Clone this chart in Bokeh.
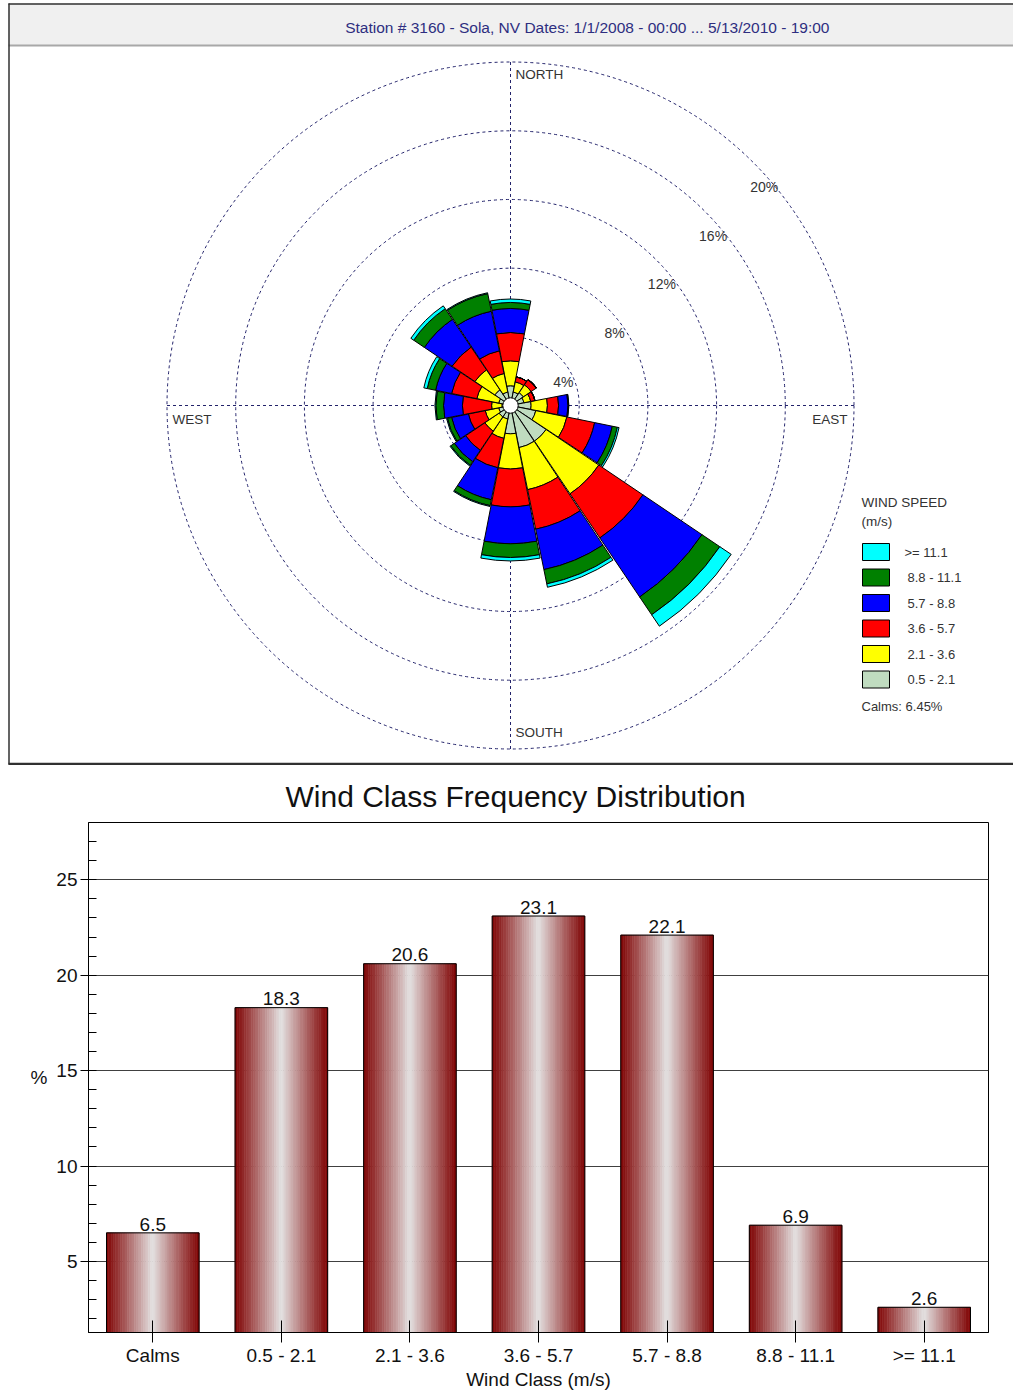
import numpy as np
from bokeh.plotting import figure
from bokeh.models import Range1d, FixedTicker, ColumnDataSource
from bokeh.embed import file_html
from bokeh.resources import INLINE
from bokeh.core.properties import value

# ---------------- data: wind rose (percent of time, per direction) ----------------
directions = ["N", "NNE", "NE", "ENE", "E", "ESE", "SE", "SSE",
              "S", "SSW", "SW", "WSW", "W", "WNW", "NW", "NNW"]
dir_angles = [0.0, 22.5, 45.0, 67.5, 90.0, 112.5, 135.0, 157.5,
              180.0, 202.5, 225.0, 247.5, 270.0, 292.5, 315.0, 337.5]
speed_classes = ["0.5 - 2.1", "2.1 - 3.6", "3.6 - 5.7", "5.7 - 8.8", "8.8 - 11.1", ">= 11.1"]
class_colors = ["#C0DCC0", "#FFFF00", "#FF0000", "#0000FF", "#008000", "#00FFFF"]
freq_05_21 = [1.15, 0.80, 0.90, 0.80, 1.20, 1.50, 2.50, 2.50, 1.65, 0.80, 0.80, 0.70, 0.50, 0.70, 1.10, 0.80]
freq_21_36 = [1.45, 0.60, 0.55, 0.40, 0.95, 1.85, 3.70, 2.50, 2.05, 1.15, 1.00, 0.80, 0.60, 1.30, 1.40, 1.10]
freq_36_57 = [1.65, 0.30, 0.35, 0.25, 0.65, 1.65, 3.10, 2.35, 2.20, 1.75, 1.35, 1.00, 1.70, 1.50, 1.60, 1.35]
freq_57_88 = [1.40, 0.00, 0.03, 0.00, 0.55, 1.05, 4.15, 2.40, 2.15, 1.90, 0.80, 1.00, 1.10, 0.95, 1.95, 2.35]
freq_88_111 = [0.35, 0.00, 0.00, 0.00, 0.03, 0.30, 1.25, 0.85, 0.80, 0.35, 0.25, 0.25, 0.45, 0.50, 0.75, 1.05]
freq_111_up = [0.20, 0.00, 0.00, 0.00, 0.02, 0.10, 0.80, 0.20, 0.20, 0.05, 0.05, 0.05, 0.05, 0.20, 0.20, 0.05]
calms_pct = 6.45
ring_values = [4, 8, 12, 16, 20]
header_text = "Station # 3160 - Sola, NV  Dates: 1/1/2008 - 00:00 ... 5/13/2010 - 19:00"

# ---------------- data: wind class frequency distribution ----------------
class_labels = ["Calms", "0.5 - 2.1", "2.1 - 3.6", "3.6 - 5.7", "5.7 - 8.8", "8.8 - 11.1", ">= 11.1"]
class_freq = [6.5, 18.3, 20.6, 23.1, 22.1, 6.9, 2.6]
y_ticks = [5, 10, 15, 20, 25]

FONT = "Liberation Sans"

# ================= top panel: wind rose =================
W1, H1 = 1013, 765
CX, CY = 510.0, 405.0          # rose centre in canvas pixels
S = 343.5 / 20.0               # pixels per percent


def fx(px):
    return (px - CX) / S


def fy(py):
    return (CY - py) / S


p1 = figure(width=W1, height=H1, title=None,
            x_range=Range1d(fx(0), fx(W1)), y_range=Range1d(fy(H1), fy(0)),
            x_axis_type=None, y_axis_type=None,
            output_backend="svg", toolbar_location=None, min_border=0,
            background_fill_color="white", border_fill_color="white",
            outline_line_color=None)
p1.grid.visible = False

# panel frame and header band
p1.quad(left=[fx(8)], right=[fx(W1 + 5)], top=[fy(3)], bottom=[fy(45)],
        fill_color="#F0F0F0", line_color=None)
p1.segment(x0=[fx(8)], y0=[fy(45)], x1=[fx(W1 + 5)], y1=[fy(45)],
           line_color="#A8A8A8", line_width=2)
p1.segment(x0=[fx(8.5), fx(8), fx(8)], y0=[fy(3), fy(3.5), fy(763.5)],
           x1=[fx(8.5), fx(W1 + 5), fx(W1 + 5)], y1=[fy(764), fy(3.5), fy(763.5)],
           line_color="#303030", line_width=[1.5, 1.5, 2.5])
p1.text(x=[fx(589)], y=[fy(27)], text=[header_text], text_font=value(FONT),
        text_font_size="15.5px", text_color="#2E2E80", text_align="center",
        text_baseline="middle")

# rings and axis lines
rmax = max(ring_values)
p1.circle(x=[0] * len(ring_values), y=[0] * len(ring_values), radius=ring_values,
          fill_color=None, line_color="#23236B", line_width=1, line_dash="3 3")
p1.segment(x0=[-rmax, 0], y0=[0, -rmax], x1=[rmax, 0], y1=[0, rmax],
           line_color="#23236B", line_width=1, line_dash="3 3")

# petals
bands = np.array([freq_05_21, freq_21_36, freq_36_57, freq_57_88, freq_88_111, freq_111_up])
outer = np.cumsum(bands, axis=0)
inner = np.vstack([np.zeros(len(directions)), outer[:-1]])
theta = np.array(dir_angles)
half = 11.0
start = np.radians(90.0 - theta - half)
end = np.radians(90.0 - theta + half)
for b in range(len(speed_classes)):
    src = ColumnDataSource(dict(x=np.zeros(len(directions)), y=np.zeros(len(directions)),
                                ri=inner[b], ro=outer[b], sa=start, ea=end))
    p1.annular_wedge(x="x", y="y", inner_radius="ri", outer_radius="ro",
                     start_angle="sa", end_angle="ea", source=src,
                     fill_color=class_colors[b], line_color="black", line_width=1)

# calm centre
p1.circle(x=[0], y=[0], radius=[0.45], fill_color="white", line_color="black", line_width=1)

# ring labels
rv = np.array(ring_values, dtype=float)
p1.text(x=0.745 * rv + 0.69, y=0.713 * rv - 1.51, text=[f"{int(r)}%" for r in ring_values],
        text_font=value(FONT), text_font_size="14px", text_color="#333333",
        text_align="right", text_baseline="middle")

# compass labels
p1.text(x=[fx(CX + 5), fx(CX + 5)], y=[fy(74), fy(732)], text=["NORTH", "SOUTH"],
        text_font=value(FONT), text_font_size="13.5px", text_color="#333333",
        text_align="left", text_baseline="middle")
p1.text(x=[fx(172)], y=[fy(419)], text=["WEST"], text_font=value(FONT),
        text_font_size="13.5px", text_color="#333333", text_align="left", text_baseline="middle")
p1.text(x=[fx(847)], y=[fy(419)], text=["EAST"], text_font=value(FONT),
        text_font_size="13.5px", text_color="#333333", text_align="right", text_baseline="middle")

# legend
p1.text(x=[fx(861), fx(861)], y=[fy(502), fy(521)], text=["WIND SPEED", "(m/s)"],
        text_font=value(FONT), text_font_size="13.5px", text_color="#333333",
        text_align="left", text_baseline="middle")
leg_order = list(range(len(speed_classes)))[::-1]
leg_top = np.array([543 + 25.5 * k for k in range(len(leg_order))])
p1.quad(left=[fx(862)] * len(leg_order), right=[fx(889)] * len(leg_order),
        top=fy(leg_top), bottom=fy(leg_top + 17),
        fill_color=[class_colors[i] for i in leg_order], line_color="black", line_width=1)
p1.text(x=[fx(904)] + [fx(907)] * (len(leg_order) - 1), y=fy(leg_top + 8.5),
        text=[speed_classes[i] for i in leg_order], text_font=value(FONT),
        text_font_size="13px", text_color="#333333", text_align="left", text_baseline="middle")
p1.text(x=[fx(861)], y=[fy(706)], text=[f"Calms: {calms_pct:.2f}%"], text_font=value(FONT),
        text_font_size="13px", text_color="#333333", text_align="left", text_baseline="middle")

# ================= bottom panel: bar chart =================
W2, H2 = 1013, 630
n = len(class_labels)
p2 = figure(width=W2, height=H2, title="Wind Class Frequency Distribution",
            x_range=Range1d(-0.5, n - 0.5), y_range=Range1d(1.28, 28.0),
            output_backend="svg", toolbar_location=None,
            min_border_left=88, min_border_right=25, min_border_top=57, min_border_bottom=63,
            background_fill_color="white", border_fill_color="white",
            outline_line_color="black", outline_line_width=1)
p2.title.align = "left"
p2.title.offset = 197
p2.title.standoff = 19
p2.title.text_font = FONT
p2.title.text_font_size = "30px"
p2.title.text_font_style = "normal"
p2.title.text_color = "#111111"

# gradient bars built from thin strips
bar_w = 0.72
nstrip = 40
dark = np.array([128, 4, 4], dtype=float)
light = np.array([228, 226, 226], dtype=float)
lefts, rights, tops, colors = [], [], [], []
for i, v in enumerate(class_freq):
    for k in range(nstrip):
        t = (k + 0.5) / nstrip
        f = (1.0 - abs(2.0 * t - 1.0)) ** 1.05
        c = dark + (light - dark) * f
        lefts.append(i - bar_w / 2 + k * bar_w / nstrip)
        rights.append(i - bar_w / 2 + (k + 1) * bar_w / nstrip)
        tops.append(v)
        colors.append("#%02x%02x%02x" % tuple(int(round(x)) for x in c))
strip_src = ColumnDataSource(dict(l=lefts, r=rights, t=tops, b=[0] * len(tops), c=colors))
p2.quad(left="l", right="r", top="t", bottom="b", fill_color="c", line_color="c",
        line_width=0.6, source=strip_src)
xs = np.arange(n)
p2.quad(left=xs - bar_w / 2, right=xs + bar_w / 2, top=class_freq, bottom=[0] * n,
        fill_color=None, line_color="black", line_width=1)
p2.text(x=xs, y=np.array(class_freq) + 0.12, text=[f"{v:.1f}" for v in class_freq],
        text_font=value(FONT), text_font_size="19px", text_color="#111111",
        text_align="center", text_baseline="bottom")

# axes
p2.xgrid.visible = False
p2.ygrid.grid_line_color = "#404040"
p2.ygrid.grid_line_width = 1
p2.ygrid.ticker = FixedTicker(ticks=y_ticks)

p2.yaxis.ticker = FixedTicker(ticks=y_ticks, minor_ticks=list(range(2, 28)))
p2.yaxis.major_tick_out = 8
p2.yaxis.major_tick_in = 0
p2.yaxis.minor_tick_in = 8
p2.yaxis.minor_tick_out = 0
p2.yaxis.major_label_standoff = 3
p2.yaxis.axis_label = "%"
p2.yaxis.axis_label_orientation = "horizontal"
p2.yaxis.axis_label_standoff = 6

p2.xaxis.ticker = FixedTicker(ticks=list(range(n)))
p2.xaxis.major_label_overrides = {i: lab for i, lab in enumerate(class_labels)}
p2.xaxis.major_tick_in = 12
p2.xaxis.major_tick_out = 10
p2.xaxis.major_label_standoff = 2
p2.xaxis.axis_label = "Wind Class (m/s)"
p2.xaxis.axis_label_standoff = 0

for ax in (p2.xaxis, p2.yaxis):
    ax.axis_line_color = "black"
    ax.major_tick_line_color = "black"
    ax.major_label_text_font = FONT
    ax.major_label_text_font_size = "19px"
    ax.major_label_text_color = "#111111"
    ax.axis_label_text_font = FONT
    ax.axis_label_text_font_size = "19px"
    ax.axis_label_text_font_style = "normal"
    ax.axis_label_text_color = "#111111"
p2.xaxis.minor_tick_line_color = None
p2.yaxis.minor_tick_line_color = "black"

open("out.html", "w").write(file_html([p1, p2], INLINE))
